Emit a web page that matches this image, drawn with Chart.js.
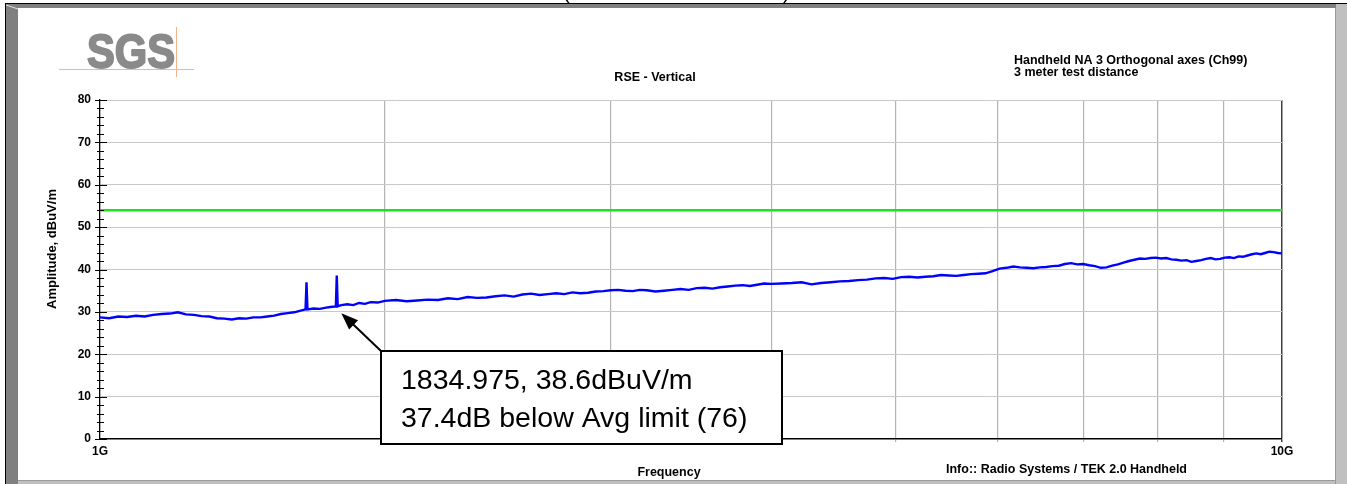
<!DOCTYPE html>
<html>
<head>
<meta charset="utf-8">
<script src="https://cdn.jsdelivr.net/npm/chart.js@4/dist/chart.umd.min.js"></script>
<style>
  html, body { margin: 0; padding: 0; background: #fff; }
  canvas { display: block; }
</style>
</head>
<body>
<canvas id="rse" width="1347" height="484"></canvas>
<script>
// trace: frequency in MHz, amplitude in dBuV/m
const freqs = [
  1200, 1220, 1240, 1260, 1280, 1300, 1320, 1340, 1360, 1380, 1400, 1420, 1440, 1460,
  1480, 1500, 1520, 1540, 1560, 1580, 1600, 1620, 1640, 1660, 1680, 1700, 1720,
  1735, 1738, 1741, 1760, 1780, 1800, 1820, 1832, 1835, 1838, 1850, 1870, 1890, 1910, 1930, 1950, 1975, 2000,
  2040, 2080, 2120, 2160, 2200, 2240, 2280, 2320, 2360, 2400, 2440, 2480, 2520, 2560, 2600,
  2640, 2680, 2720, 2760, 2800, 2840, 2880, 2920, 2960, 3000, 3040, 3080, 3120, 3160, 3200,
  3250, 3300, 3350, 3400, 3450, 3500, 3550, 3600, 3650, 3700, 3750, 3800, 3850, 3900, 3950, 4000,
  4075, 4150, 4225, 4300, 4375, 4450, 4525, 4600, 4675, 4750,
  4825, 4900, 4975, 5050, 5125, 5200, 5275, 5350, 5425, 5500,
  5575, 5650, 5725, 5800, 5875, 5950, 6025, 6100, 6175, 6250,
  6325, 6400, 6475, 6550, 6625, 6700, 6775, 6850, 6925, 7000,
  7075, 7150, 7225, 7300, 7375, 7450, 7525, 7600, 7675, 7750,
  7825, 7900, 7975, 8050, 8125, 8200, 8275, 8350, 8425, 8500,
  8575, 8650, 8725, 8800, 8875, 8950, 9025, 9100, 9175, 9250,
  9325, 9400, 9475, 9550, 9625, 9700, 9775, 9850, 9925, 10000];
const amplitude = [
  28.7, 28.5, 28.9, 28.8, 29.1, 28.9, 29.3, 29.5, 29.6, 29.9, 29.4, 29.3, 29.0, 28.9,
  28.5, 28.4, 28.2, 28.5, 28.4, 28.7, 28.7, 28.9, 29.1, 29.5, 29.7, 29.9, 30.3,
  30.6, 37.0, 30.6, 30.8, 30.7, 31.0, 31.2, 31.3, 38.6, 31.3, 31.6, 31.8, 31.6, 32.1, 31.9, 32.3, 32.2, 32.6,
  32.8, 32.5, 32.7, 32.9, 32.8, 33.2, 33.0, 33.5, 33.3, 33.4, 33.7, 33.9, 33.6, 34.1, 34.3,
  34.0, 34.2, 34.4, 34.2, 34.6, 34.4, 34.5, 34.8, 34.9, 35.1, 35.2, 35.0, 34.9, 35.2, 35.1,
  34.8, 35.0, 35.2, 35.4, 35.2, 35.6, 35.7, 35.5, 35.8, 36.0, 36.2, 36.3, 36.1, 36.4, 36.7, 36.6,
  36.7, 36.8, 37.0, 36.5, 36.8, 37.0, 37.2, 37.3, 37.5, 37.6,
  37.9, 38.0, 37.8, 38.2, 38.3, 38.1, 38.3, 38.4, 38.7, 38.6,
  38.5, 38.7, 38.9, 39.0, 39.1, 39.6, 40.2, 40.4, 40.7, 40.5,
  40.4, 40.3, 40.5, 40.6, 40.8, 40.9, 41.3, 41.5, 41.2, 41.3,
  41.0, 40.8, 40.4, 40.5, 40.9, 41.2, 41.6, 42.0, 42.3, 42.6,
  42.5, 42.7, 42.8, 42.6, 42.7, 42.4, 42.3, 42.1, 42.2, 41.8,
  42.0, 42.2, 42.5, 42.7, 42.4, 42.5, 42.8, 42.9, 42.7, 43.1,
  43.0, 43.3, 43.6, 43.8, 43.6, 43.9, 44.2, 44.1, 43.9, 43.8];

// average limit line
const limitFreqs = [1200, 10000];
const limitLevel = [54, 54];

// axes
const yTicks = [0, 10, 20, 30, 40, 50, 60, 70, 80];
const yMinorStep = 2;
const xGridFreqs = [1200, 2000, 3000, 4000, 5000, 6000, 7000, 8000, 9000, 10000];
const xTickLabels = ['1G', '', '', '', '', '', '', '', '', '10G'];

// marker note
const markerFreq = '1834.975';
const markerLevel = 38.6;
const markerMargin = 37.4;
const arrowTip = { x: 1850, y: 29.7 };

const FONT = '"Liberation Sans", Arial, sans-serif';

function text(ctx, str, x, y, size, opts) {
  opts = opts || {};
  ctx.save();
  ctx.font = (opts.bold ? 'bold ' : '') + size + 'px ' + FONT;
  ctx.fillStyle = opts.color || '#000';
  ctx.textAlign = opts.align || 'left';
  ctx.textBaseline = 'alphabetic';
  if (opts.width) ctx.fillText(str, x, y, opts.width);
  else ctx.fillText(str, x, y);
  if (opts.heavy) {
    ctx.strokeStyle = opts.color || '#000';
    ctx.lineWidth = opts.heavy;
    ctx.lineJoin = 'round';
    ctx.strokeText(str, x, y, opts.width);
  }
  ctx.restore();
}

const pagePlugin = {
  id: 'page',
  beforeDraw(chart) {
    const ctx = chart.ctx;
    ctx.save();
    ctx.fillStyle = '#fff';
    ctx.fillRect(0, 0, chart.width, chart.height);
    ctx.restore();
  },
  afterDraw(chart) {
    const ctx = chart.ctx;
    const xs = chart.scales.x, ys = chart.scales.y;
    const area = chart.chartArea;
    ctx.save();

    // bits of the cut-off heading above the frame
    text(ctx, '(', 563, -1, 20);
    text(ctx, ')', 783, -1, 20);

    // window frame
    ctx.fillStyle = '#808080';
    ctx.fillRect(6, 4, 12, 480);
    ctx.fillRect(6, 4, 1330, 4);
    ctx.fillStyle = '#c0c0c0';
    ctx.fillRect(1336, 4, 11, 480);
    ctx.fillRect(18, 481, 1318, 3);
    ctx.fillStyle = '#9a9a9a';
    ctx.fillRect(1335, 8, 1, 476);
    ctx.fillRect(18, 480, 1318, 1);
    ctx.fillStyle = '#000';
    ctx.fillRect(5, 3, 1342, 1);
    ctx.fillRect(5, 3, 1, 481);
    ctx.strokeStyle = '#e0e0e0';
    ctx.lineWidth = 1;
    ctx.beginPath();
    ctx.moveTo(6, 5); ctx.lineTo(18, 9);
    ctx.stroke();

    // logo
    ctx.strokeStyle = '#f4b48e';
    ctx.beginPath();
    ctx.moveTo(59, 69.5); ctx.lineTo(194, 69.5);
    ctx.moveTo(176.5, 27); ctx.lineTo(176.5, 77);
    ctx.stroke();
    text(ctx, 'SGS', 87, 67.5, 48, { bold: true, color: '#8a8a8a', width: 88, heavy: 2 });

    // headings
    text(ctx, 'RSE - Vertical', 655, 80.5, 12.5, { bold: true, align: 'center', width: 94 });
    text(ctx, 'Handheld NA 3 Orthogonal axes (Ch99)', 1014, 63.5, 12.5, { bold: true, width: 246 });
    text(ctx, '3 meter test distance', 1014, 75.5, 12.5, { bold: true, width: 132 });
    text(ctx, 'Frequency', 669, 476, 12.5, { bold: true, align: 'center', width: 65 });
    text(ctx, 'Info:: Radio Systems / TEK 2.0 Handheld', 946, 473, 12.5, { bold: true, width: 257 });

    ctx.save();
    ctx.translate(56, 249);
    ctx.rotate(-Math.PI / 2);
    text(ctx, 'Amplitude, dBuV/m', 0, 0, 13, { bold: true, align: 'center', width: 142 });
    ctx.restore();

    // y axis major / minor tick marks
    ctx.strokeStyle = '#000';
    ctx.lineWidth = 1;
    ctx.beginPath();
    for (let v = ys.min; v <= ys.max; v += yMinorStep) {
      const y = Math.round(ys.getPixelForValue(v)) + 0.5;
      const major = v % 10 === 0;
      ctx.moveTo(area.left - (major ? 5 : 3), y);
      ctx.lineTo(area.left + (major ? 7 : 4), y);
    }
    ctx.stroke();

    // marker note with arrow
    const tx = xs.getPixelForValue(arrowTip.x);
    const ty = ys.getPixelForValue(arrowTip.y);
    const box = { x: 381, y: 351, w: 401, h: 93 };
    const ang = Math.atan2(box.y - ty, box.x - tx);
    ctx.strokeStyle = '#000';
    ctx.fillStyle = '#000';
    ctx.lineWidth = 2;
    ctx.beginPath();
    ctx.moveTo(tx + 10 * Math.cos(ang), ty + 10 * Math.sin(ang));
    ctx.lineTo(box.x, box.y);
    ctx.stroke();
    const hl = 17, hw = 6.5;
    const bx = tx + hl * Math.cos(ang), by = ty + hl * Math.sin(ang);
    ctx.beginPath();
    ctx.moveTo(tx, ty);
    ctx.lineTo(bx + hw * Math.sin(ang), by - hw * Math.cos(ang));
    ctx.lineTo(bx - hw * Math.sin(ang), by + hw * Math.cos(ang));
    ctx.closePath();
    ctx.fill();

    ctx.fillStyle = '#fff';
    ctx.fillRect(box.x, box.y, box.w, box.h);
    ctx.lineWidth = 2;
    ctx.strokeRect(box.x, box.y, box.w, box.h);
    text(ctx, markerFreq + ', ' + markerLevel + 'dBuV/m', 401, 389, 28.5);
    text(ctx, markerMargin + 'dB below Avg limit (76)', 401, 426.5, 28.5);

    ctx.restore();
  }
};

new Chart(document.getElementById('rse'), {
  type: 'line',
  data: {
    datasets: [
      {
        label: 'Avg limit',
        data: limitFreqs.map((f, i) => ({ x: f, y: limitLevel[i] })),
        borderColor: '#19e619',
        borderWidth: 2.5,
        pointRadius: 0
      },
      {
        label: 'Vertical',
        data: freqs.map((f, i) => ({ x: f, y: amplitude[i] })),
        borderColor: '#0000ff',
        borderWidth: 2.4,
        pointRadius: 0,
        tension: 0
      }
    ]
  },
  options: {
    responsive: false,
    animation: false,
    layout: { padding: { top: 100, right: 65, left: 0, bottom: 0 } },
    plugins: { legend: { display: false }, tooltip: { enabled: false } },
    scales: {
      x: {
        type: 'logarithmic',
        min: 1200,
        max: 10000,
        afterBuildTicks: s => { s.ticks = xGridFreqs.map(v => ({ value: v })); },
        afterFit: s => { s.height = 45; },
        ticks: {
          autoSkip: false, maxRotation: 0, minRotation: 0, padding: 2,
          color: '#000',
          font: { family: FONT, size: 12, weight: 'bold' },
          callback: (v, i) => xTickLabels[i]
        },
        grid: {
          color: c => c.tick.value === 1200 ? 'rgba(0,0,0,0)' : (c.tick.value === 10000 ? '#404040' : '#b4b4b4'),
          lineWidth: c => c.tick.value === 10000 ? 1.5 : 1.2,
          tickLength: 3
        },
        border: { color: '#000', width: 1.5 }
      },
      y: {
        min: 0,
        max: 80,
        afterBuildTicks: s => { s.ticks = yTicks.map(v => ({ value: v })); },
        afterFit: s => { s.width = 100; },
        ticks: {
          padding: 9,
          color: '#000',
          font: { family: FONT, size: 12, weight: 'bold' }
        },
        grid: {
          color: c => c.tick.value === 0 ? 'rgba(0,0,0,0)' : '#c8c8c8',
          lineWidth: 1,
          drawTicks: false
        },
        border: { color: '#000', width: 1.3 }
      }
    }
  },
  plugins: [pagePlugin]
});
</script>
</body>
</html>
